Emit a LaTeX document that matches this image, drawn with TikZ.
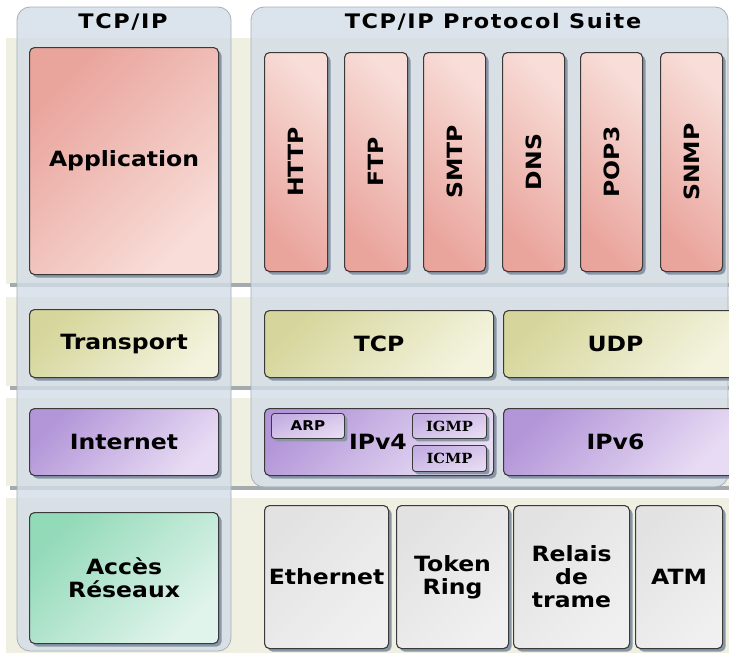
\documentclass[tikz,border=0pt]{standalone}
\usepackage{fontspec}
\setmainfont{DejaVu Sans}[FakeStretch=1.12]
\newfontfamily\hdrfont{DejaVu Sans}[FakeStretch=1.12,LetterSpace=8]
\newfontfamily\serifb{DejaVu Serif}[FakeStretch=1.05]
\usetikzlibrary{shadows}
\definecolor{cream}{HTML}{F0F0E2}
\definecolor{sepgrey}{HTML}{A4ABAE}
\definecolor{panelfill}{HTML}{D3DDE8}
\definecolor{panelline}{HTML}{A6AFB9}
\definecolor{boxline}{HTML}{3A3A3A}
\definecolor{shadowc}{HTML}{8896A6}
\definecolor{pinkA}{HTML}{E9A49C}
\definecolor{pinkB}{HTML}{F8DDD8}
\definecolor{yelA}{HTML}{D6D69C}
\definecolor{yelB}{HTML}{F3F3DE}
\definecolor{purA}{HTML}{B396D8}
\definecolor{purB}{HTML}{E8DCF4}
\definecolor{smpA}{HTML}{C4AEE2}
\definecolor{smpB}{HTML}{E6DAF2}
\definecolor{grnA}{HTML}{93DAB9}
\definecolor{grnB}{HTML}{E1F4EC}
\definecolor{gryA}{HTML}{E2E2E2}
\definecolor{gryB}{HTML}{F0F0F0}
\tikzset{
  panel/.style={draw=panelline, line width=0.8pt, fill=panelfill, fill opacity=0.8, rounded corners=13pt},
  box/.style={draw=boxline, line width=1.1pt, rounded corners=5pt, anchor=north west, inner sep=0pt,
    drop shadow={shadow xshift=3pt, shadow yshift=-3pt, fill=shadowc, opacity=1},
    font=\fontsize{21}{23}\selectfont\bfseries, align=center},
  pinkbox/.style={box, left color=pinkA, right color=pinkB, shading angle=45},
  protobox/.style={box, left color=pinkA, right color=pinkB, shading angle=135,
    minimum height=219pt, minimum width=62pt},
  yelbox/.style={box, left color=yelA, right color=yelB, shading angle=45},
  purbox/.style={box, left color=purA, right color=purB, shading angle=45},
  grnbox/.style={box, left color=grnA, right color=grnB, shading angle=45},
  grybox/.style={box, left color=gryA, right color=gryB, shading angle=45},
  smallbox/.style={box, left color=smpA, right color=smpB, shading angle=20,
    line width=0.9pt, rounded corners=3pt,
    drop shadow={shadow xshift=2pt, shadow yshift=-2pt, fill=shadowc, opacity=1},
    font=\fontsize{13.5}{14}\selectfont\bfseries},
  hdr/.style={font=\hdrfont\fontsize{20}{21}\selectfont\bfseries, inner sep=0pt}
}
\begin{document}
\begin{tikzpicture}[x=1pt,y=-1pt]
\useasboundingbox (0,0) rectangle (729,653);
\fill[white] (0,0) rectangle (729,653);
% row bands
\fill[cream] (6,38) rectangle (729,284);
\fill[cream] (6,297) rectangle (729,386);
\fill[cream] (6,398) rectangle (729,486);
\fill[cream] (6,498) rectangle (729,653);
% separators
\fill[sepgrey] (10,283) rectangle (729,286.5);
\fill[sepgrey] (10,386) rectangle (729,389.5);
\fill[sepgrey] (10,486) rectangle (729,489.5);
% panels
\draw[panel] (17,7) rectangle (231,651);
\draw[panel] (251,7) rectangle (728,487);
\node[hdr] (hl) at (123,22) {TCP/IP};
\node[hdr] (hr) at (493,22) {TCP/IP Protocol Suite};
% application layer
\node[pinkbox, minimum width=189pt, minimum height=227pt] (app) at (29,47) {Application};
\node[protobox, minimum width=63pt] (http) at (264,52) {\rotatebox{90}{HTTP}};
\node[protobox, minimum width=63pt] (ftp) at (344,52) {\rotatebox{90}{FTP}};
\node[protobox] (smtp) at (423,52) {\rotatebox{90}{SMTP}};
\node[protobox] (dns) at (502,52) {\rotatebox{90}{DNS}};
\node[protobox] (pop) at (580,52) {\rotatebox{90}{POP3}};
\node[protobox] (snmp) at (660,52) {\rotatebox{90}{SNMP}};
% transport layer
\node[yelbox, minimum width=189pt, minimum height=68pt] (trans) at (29,309) {Transport};
\node[yelbox, minimum width=229pt, minimum height=67pt] (tcp) at (264,310) {TCP};
\node[yelbox, minimum width=232pt, minimum height=67pt, text width=220pt] (udp) at (503,310) {\hspace*{-8pt}UDP};
% internet layer
\node[purbox, minimum width=189pt, minimum height=67pt] (inet) at (29,408) {Internet};
\node[purbox, minimum width=229pt, minimum height=67pt] (ipv4) at (264,408) {};
\node[purbox, minimum width=232pt, minimum height=67pt, text width=220pt] (ipv6) at (503,408) {\hspace*{-8pt}IPv6};
\node[font=\fontsize{21}{23}\selectfont\bfseries, inner sep=0pt] (ipv4t) at (378,442) {IPv4};
\node[smallbox, minimum width=73pt, minimum height=25pt] (arp) at (271,413) {ARP};
\node[smallbox, minimum width=74pt, minimum height=25pt, font=\serifb\fontsize{14}{14}\selectfont\bfseries] (igmp) at (412,413) {IGMP};
\node[smallbox, minimum width=74pt, minimum height=26pt, font=\serifb\fontsize{14}{14}\selectfont\bfseries] (icmp) at (412,445) {ICMP};
% network access layer
\node[grnbox, minimum width=189pt, minimum height=131pt] (acc) at (29,512) {Accès\\Réseaux};
\node[grybox, minimum width=124pt, minimum height=143pt] (eth) at (264,505) {Ethernet};
\node[grybox, minimum width=112pt, minimum height=143pt] (tok) at (396,505) {Token\\Ring};
\node[grybox, minimum width=116pt, minimum height=143pt] (fr) at (513,505) {Relais\\de\\trame};
\node[grybox, minimum width=87pt, minimum height=143pt] (atm) at (635,505) {ATM};
\end{tikzpicture}
\end{document}
